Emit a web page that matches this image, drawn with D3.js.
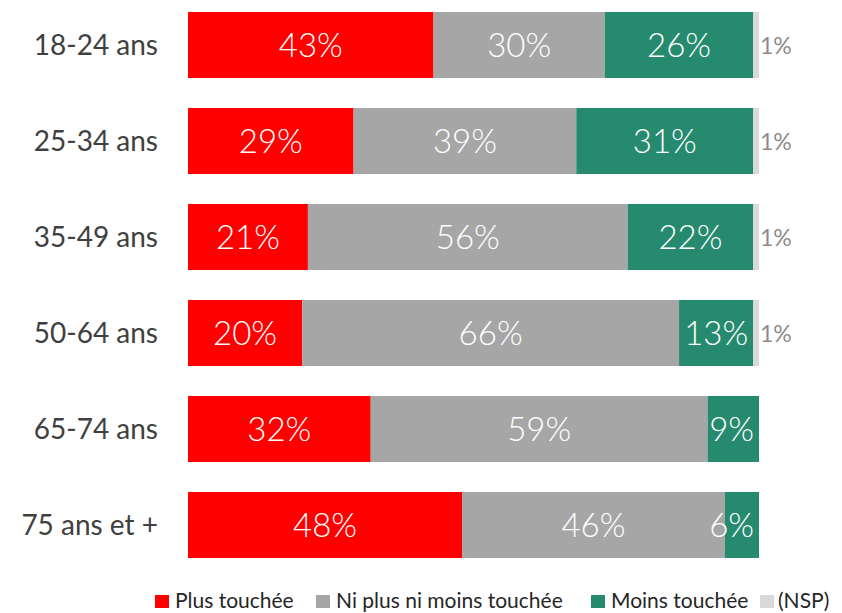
<!DOCTYPE html>
<html>
<head>
<meta charset="utf-8">
<script src="https://cdn.jsdelivr.net/npm/d3@7"></script>
<style>
  body { margin: 0; background: #fff; }
  text { font-family: Lato, "Open Sans", sans-serif; }
</style>
</head>
<body>
<script>
// data
var categories = ["18-24 ans", "25-34 ans", "35-49 ans", "50-64 ans", "65-74 ans", "75 ans et +"];
var seriesNames = ["Plus touchée", "Ni plus ni moins touchée", "Moins touchée", "(NSP)"];
var plus = [43, 29, 21, 20, 32, 48];
var niplus = [30, 39, 56, 66, 59, 46];
var moins = [26, 31, 22, 13, 9, 6];
var nsp = [1, 1, 1, 1, 0, 0];
var colors = ["#ff0000", "#a6a6a6", "#268a6f", "#d9d9d9"];

var width = 842, height = 613;
var svg = d3.select("body").append("svg")
    .attr("width", width)
    .attr("height", height);

var rows = categories.map(function (c, i) {
    return {cat: c, vals: [plus[i], niplus[i], moins[i], nsp[i]]};
});

var x = d3.scaleLinear().domain([0, 100]).range([188, 759]);
var y = d3.scaleBand().domain(categories).range([0, 570]).paddingInner(0.3125).paddingOuter(0.125);

var rowG = svg.selectAll("g.row")
    .data(rows)
    .enter().append("g")
    .attr("class", "row")
    .attr("transform", function (d) { return "translate(0," + y(d.cat) + ")"; });

// category labels
rowG.append("text")
    .attr("x", 158)
    .attr("y", y.bandwidth() / 2)
    .attr("dy", "0.35em")
    .style("text-anchor", "end")
    .style("font-size", "28px")
    .style("fill", "#404040")
    .text(function (d) { return d.cat; });

rowG.each(function (d) {
    var g = d3.select(this);
    var cum = 0;
    d.vals.forEach(function (v, k) {
        if (v <= 0) return;
        var x0 = x(cum), x1 = x(cum + v);
        cum += v;
        g.append("rect")
            .attr("x", x0)
            .attr("y", 0)
            .attr("width", x1 - x0)
            .attr("height", y.bandwidth())
            .style("fill", colors[k]);

        if (k < 3) {
            var t = g.append("text")
                .attr("y", y.bandwidth() / 2)
                .attr("dy", "0.37em")
                .style("text-anchor", "middle")
                .style("font-size", "33px")
                .style("font-weight", 300)
                .style("fill", "#fff")
                .text(v + "%");
            var cx = (x0 + x1) / 2;
            var tw = t.node().getComputedTextLength();
            // keep the label inside the bar end like the original
            if (cx + tw / 2 > x(100) - 5) cx = x(100) - 5 - tw / 2;
            t.attr("x", cx);
        } else {
            g.append("text")
                .attr("x", x1 + 1)
                .attr("y", y.bandwidth() / 2)
                .attr("dy", "0.37em")
                .style("font-size", "23px")
                .style("fill", "#8c8c8c")
                .text(v + "%");
        }
    });
});

// legend
var legendX = [155, 316, 591, 760];
var legend = svg.selectAll("g.legend")
    .data(seriesNames)
    .enter().append("g")
    .attr("class", "legend")
    .attr("transform", function (d, i) { return "translate(" + legendX[i] + ",595)"; });

legend.append("rect")
    .attr("width", 14)
    .attr("height", 13)
    .style("fill", function (d, i) { return colors[i]; });

legend.append("text")
    .attr("x", function (d, i) { return i == 3 ? 18 : 20; })
    .attr("y", 13)
    .style("font-size", "21px")
    .style("fill", "#262626")
    .text(function (d) { return d; });
</script>
</body>
</html>
